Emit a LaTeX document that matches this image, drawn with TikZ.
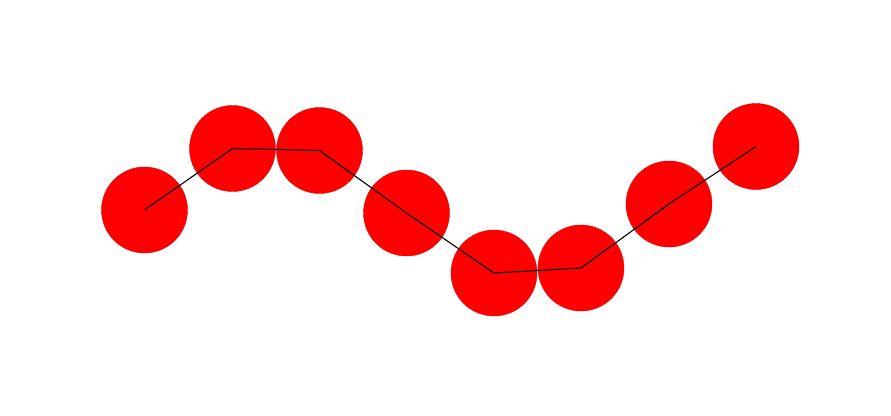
\documentclass[tikz,border=0pt]{standalone}
\begin{document}
\begin{tikzpicture}[x=1pt,y=-1pt,
  ball/.style={circle,fill=red,draw=red!90!black,line width=0.4pt,minimum size=86pt,inner sep=0pt},
  chain/.style={draw=black,line width=1.1pt}]
\useasboundingbox[fill=white] (0,0) rectangle (891,415);
\node[ball] (c1) at (144.5,210) {};
\node[ball] (c2) at (232.5,148.5) {};
\node[ball] (c3) at (319.5,150.5) {};
\node[ball] (c4) at (406.5,213) {};
\node[ball] (c5) at (494,273) {};
\node[ball] (c6) at (581,268) {};
\node[ball] (c7) at (669,204) {};
\node[ball] (c8) at (756,146.5) {};
\draw[chain] (c1.center) -- (c2.center) -- (c3.center) -- (c4.center) -- (c5.center) -- (c6.center) -- (c7.center) -- (c8.center);
\end{tikzpicture}
\end{document}
